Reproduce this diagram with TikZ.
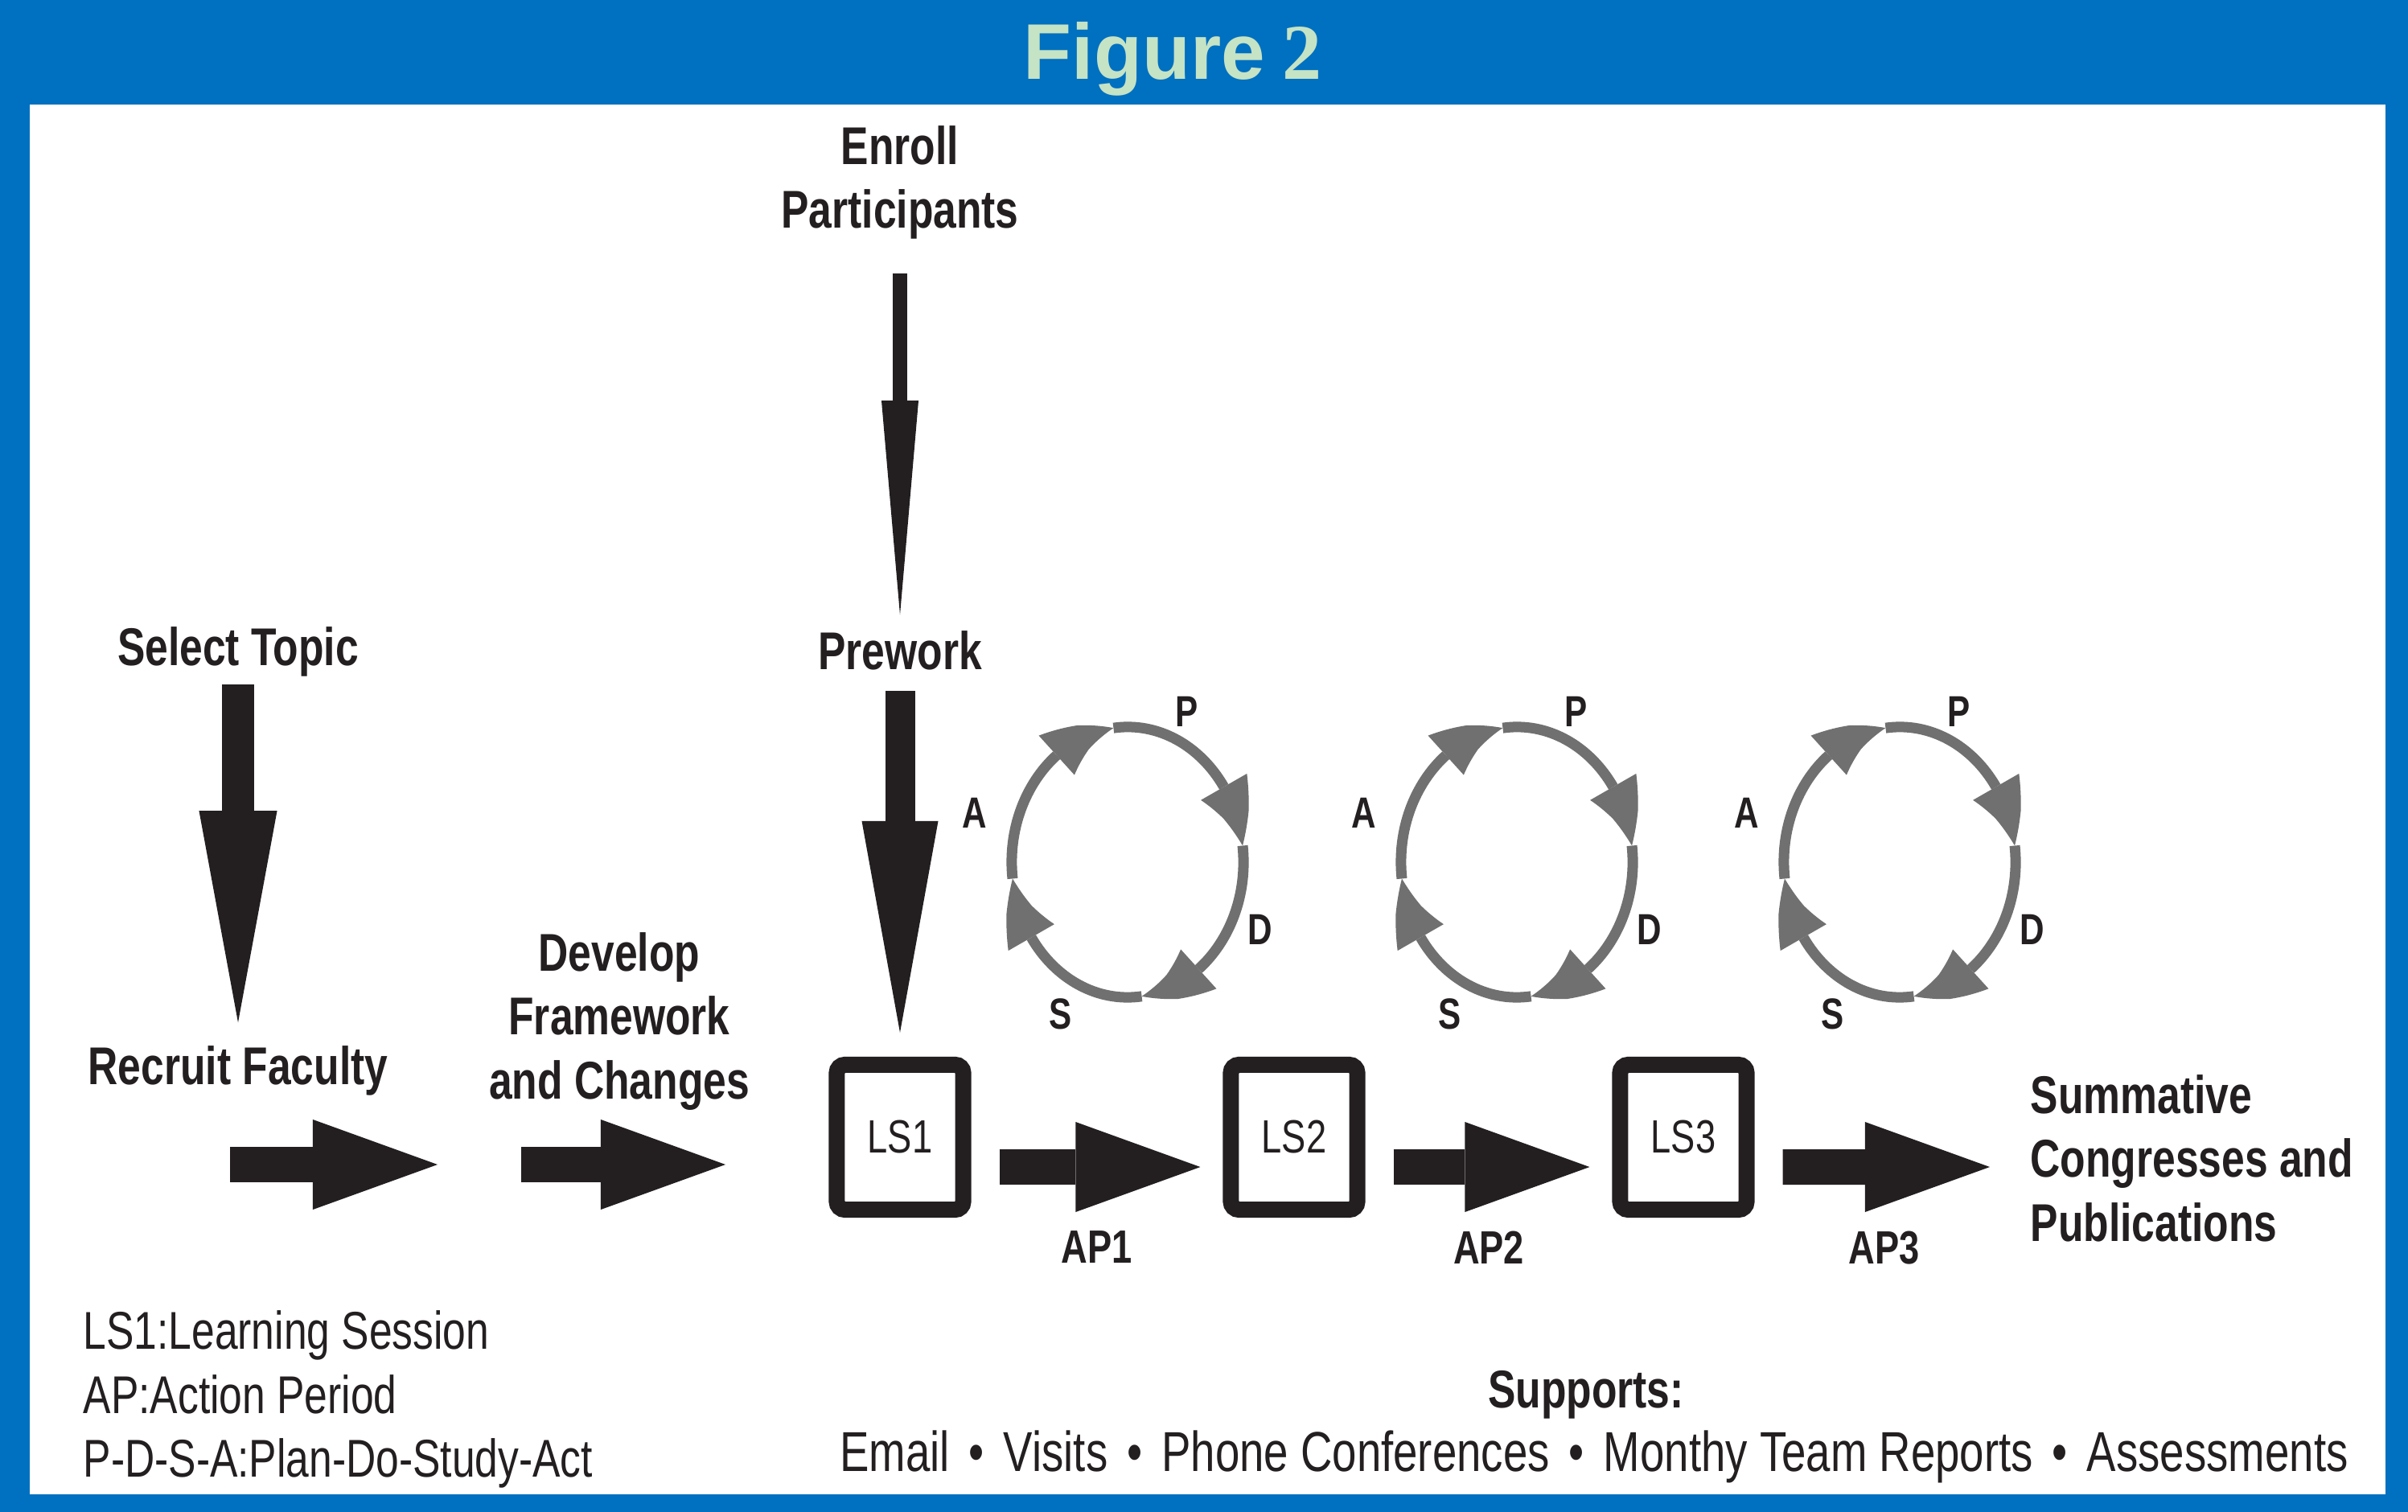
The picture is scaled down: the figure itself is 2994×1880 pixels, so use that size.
\documentclass[tikz,border=0pt]{standalone}
\usepackage{fontspec}
\setmainfont{Liberation Sans}[FakeStretch=0.78]
\newfontfamily\headfont{Liberation Sans}
\newfontfamily\digitfont{Liberation Serif}
\usepackage{xcolor}
\usetikzlibrary{arrows.meta, bending}
\usetikzlibrary{positioning}
\definecolor{frameblue}{RGB}{0,112,192}
\definecolor{titlegreen}{RGB}{197,227,197}
\definecolor{ink}{RGB}{35,31,32}
\definecolor{ringgray}{RGB}{112,112,112}
\newcommand{\dotsep}{\hspace{0.24cm}•\hspace{0.24cm}}

\begin{document}
\begin{tikzpicture}[x=0.01cm, y=-0.01cm,
	every node/.style={inner sep=0pt, text=ink},
	lbl/.style={font=\bfseries\fontsize{18.8}{22.6}\selectfont, align=center},
	plain/.style={font=\fontsize{18.8}{22.6}\selectfont, align=left},
	lsbox/.style={draw=ink, line width=0.2cm, rounded corners=0.1cm, minimum width=1.57cm, minimum height=1.8cm, font=\fontsize{16.5}{19}\selectfont},
	aplabel/.style={font=\bfseries\fontsize{16.5}{19}\selectfont},
	pdsa/.style={font=\bfseries\fontsize{15.4}{18}\selectfont},
	bigarrow/.style={draw=ink, line width=0.44cm, -{Triangle[length=1.55cm, width=1.12cm, line width=0pt]}},
	downarrow/.style n args={3}{draw=ink, line width=#1, -{Triangle[length=#2, width=#3, line width=0pt]}},
	ring/.style={draw=ringgray, line width=0.13cm, -{Triangle[length=0.8cm, width=0.66cm, bend, line width=0pt]}}]

	\fill[frameblue] (0,0) rectangle (2994,1880);
	\fill[white] (37,130) rectangle (2966,1858);
	\node[anchor=base, text=titlegreen, font=\fontsize{27.9}{30}\selectfont] (title) at (1458,99) {{\headfont\bfseries Figure} {\digitfont\bfseries 2}};

	\node[lbl] (enroll) at (1119,227) {Enroll\\Participants};
	\node[lbl, anchor=base] (prework) at (1119,833) {Prework};
	\node[lbl, anchor=base] (topic) at (296,828) {Select Topic};
	\node[lbl, anchor=base] (faculty) at (296,1348) {Recruit Faculty};
	\node[lbl] (develop) at (770,1270) {Develop\\Framework\\and Changes};
	\node[lbl, align=left, anchor=west] (summ) at (2524,1440) {Summative\\Congresses and\\Publications};

	\foreach \x [count=\i] in {1119,1609,2093}
	{
		\node[lsbox] (LS\i) at (\x,1414) {LS\i};
	}

	\draw[downarrow={0.18cm}{2.66cm}{0.46cm}, shorten <=0.42cm, shorten >=0.2cm] (enroll) -- (prework);
	\draw[downarrow={0.37cm}{2.63cm}{0.95cm}, shorten <=0.25cm, shorten >=0.3cm] (prework) -- (LS1);
	\draw[downarrow={0.39cm}{2.63cm}{0.97cm}, shorten <=0.09cm, shorten >=0.28cm] (topic) -- (faculty);

	\coordinate (rec-a) at (286,1448);
	\coordinate (rec-b) at (544,1448);
	\coordinate (dev-a) at (648,1448);
	\coordinate (dev-b) at (902,1448);
	\draw[bigarrow] (rec-a) -- (rec-b);
	\draw[bigarrow] (dev-a) -- (dev-b);

	\foreach \i [evaluate=\i as \j using {int(\i+1)}] in {1,2}
	{
		\draw[bigarrow, shorten <=0.35cm, shorten >=0.28cm] ([yshift=-0.37cm]LS\i.east) -- ([yshift=-0.37cm]LS\j.west) node[aplabel, midway, below=0.58cm] (AP\i) {AP\i};
	}
	\draw[bigarrow, shorten <=0.35cm, shorten >=0.5cm] ([yshift=-0.37cm]LS3.east) -- ([yshift=-0.11cm]summ.west) node[aplabel, pos=0.47, below=0.58cm] (AP3) {AP3};

	\foreach \cx [count=\i] in {1402,1886,2362}
	{
		\coordinate (cyc\i) at (\cx,1072);
		\foreach \a in {187,97,7,-83}
		{
			\draw[ring] (cyc\i) ++(\a:1.44cm and 1.68cm) arc[start angle=\a, delta angle=-90, x radius=1.44cm, y radius=1.68cm];
		}
		\node[pdsa] (P\i) at (\cx+74,885) {P};
		\node[pdsa] (D\i) at (\cx+165,1156) {D};
		\node[pdsa] (S\i) at (\cx-83,1261) {S};
		\node[pdsa] (A\i) at (\cx-190,1011) {A};
	}

	\node[plain, anchor=west] (legend) at (103,1740) {LS1:Learning Session\\AP:Action Period\\P-D-S-A:Plan-Do-Study-Act};
	\node[lbl, anchor=base] (supports) at (1972,1750) {Supports:};
	\node[plain, anchor=base, font=\fontsize{19.9}{22.6}\selectfont] (channels) at (1982,1829) {Email\dotsep Visits\dotsep Phone Conferences\dotsep Monthy Team Reports\dotsep Assessments};
\end{tikzpicture}
\end{document}
